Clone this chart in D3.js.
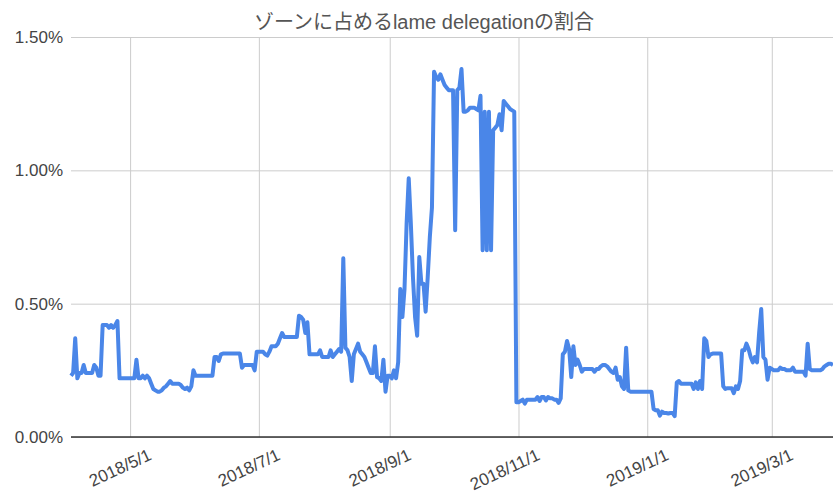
<!DOCTYPE html>
<html>
<head>
<meta charset="utf-8">
<script src="https://cdn.jsdelivr.net/npm/d3@7"></script>
<style>
  body { margin: 0; background: #fff; }
  svg { display: block; }
</style>
</head>
<body>
<div id="chart"></div>
<script>
// chart title
var title = "ゾーンに占めるlame delegationの割合";

// first day of the daily series
var startDate = "2018-04-03";

// daily share of lame delegation, in percent (one value per day from startDate)
var values = [
  0.23, 0.24, 0.37, 0.22, 0.24, 0.24, 0.27, 0.24, 0.24, 0.24,
  0.24, 0.27, 0.26, 0.23, 0.23, 0.42, 0.42, 0.42, 0.41, 0.42,
  0.41, 0.42, 0.435, 0.22, 0.22, 0.22, 0.22, 0.22, 0.22, 0.22,
  0.22, 0.29, 0.22, 0.22, 0.23, 0.22, 0.23, 0.22, 0.20, 0.18,
  0.175, 0.17, 0.17, 0.175, 0.185, 0.19, 0.20, 0.21, 0.20, 0.20,
  0.20, 0.20, 0.195, 0.185, 0.18, 0.185, 0.175, 0.19, 0.25, 0.23,
  0.23, 0.23, 0.23, 0.23, 0.23, 0.23, 0.23, 0.23, 0.30, 0.30,
  0.285, 0.31, 0.313, 0.313, 0.313, 0.313, 0.313, 0.313, 0.313, 0.313,
  0.313, 0.26, 0.27, 0.27, 0.27, 0.27, 0.27, 0.25, 0.32, 0.32,
  0.32, 0.32, 0.31, 0.305, 0.32, 0.34, 0.34, 0.34, 0.35, 0.37,
  0.39, 0.375, 0.375, 0.375, 0.375, 0.375, 0.375, 0.375, 0.455, 0.45,
  0.44, 0.39, 0.43, 0.31, 0.31, 0.31, 0.31, 0.31, 0.325, 0.30,
  0.30, 0.30, 0.30, 0.325, 0.30, 0.31, 0.32, 0.33, 0.32, 0.67,
  0.335, 0.325, 0.30, 0.21, 0.31, 0.33, 0.35, 0.32, 0.31, 0.30,
  0.28, 0.26, 0.24, 0.24, 0.34, 0.225, 0.22, 0.21, 0.29, 0.17,
  0.23, 0.23, 0.22, 0.25, 0.22, 0.28, 0.555, 0.45, 0.555, 0.80,
  0.97, 0.80, 0.60, 0.45, 0.38, 0.675, 0.575, 0.575, 0.47, 0.60,
  0.75, 0.86, 1.37, 1.35, 1.34, 1.36, 1.34, 1.32, 1.31, 1.30,
  1.30, 1.30, 0.775, 1.30, 1.31, 1.38, 1.22, 1.22, 1.225, 1.235,
  1.235, 1.235, 1.23, 1.225, 1.28, 0.70, 1.22, 0.70, 1.22, 0.70,
  1.15, 1.16, 1.17, 1.21, 1.15, 1.26, 1.25, 1.24, 1.23, 1.225,
  1.22, 0.13, 0.13, 0.135, 0.14, 0.125, 0.14, 0.14, 0.14, 0.14,
  0.14, 0.15, 0.135, 0.15, 0.15, 0.137, 0.15, 0.145, 0.145, 0.14,
  0.14, 0.128, 0.145, 0.31, 0.32, 0.36, 0.33, 0.225, 0.34, 0.27,
  0.29, 0.27, 0.245, 0.255, 0.255, 0.255, 0.255, 0.255, 0.245, 0.255,
  0.255, 0.265, 0.27, 0.27, 0.265, 0.255, 0.245, 0.24, 0.26, 0.215,
  0.225, 0.19, 0.18, 0.335, 0.175, 0.17, 0.17, 0.17, 0.17, 0.17,
  0.17, 0.17, 0.17, 0.17, 0.17, 0.17, 0.105, 0.10, 0.10, 0.08,
  0.095, 0.09, 0.09, 0.088, 0.09, 0.09, 0.078, 0.205, 0.21, 0.20,
  0.20, 0.20, 0.20, 0.20, 0.20, 0.18, 0.205, 0.18, 0.21, 0.18,
  0.37, 0.36, 0.30, 0.31, 0.313, 0.313, 0.313, 0.313, 0.313, 0.19,
  0.18, 0.183, 0.183, 0.183, 0.164, 0.19, 0.18, 0.21, 0.325, 0.325,
  0.35, 0.33, 0.30, 0.28, 0.30, 0.28, 0.39, 0.48, 0.30, 0.29,
  0.215, 0.26, 0.255, 0.25, 0.25, 0.25, 0.26, 0.255, 0.255, 0.25,
  0.25, 0.25, 0.26, 0.245, 0.245, 0.245, 0.245, 0.245, 0.23, 0.35,
  0.255, 0.25, 0.25, 0.25, 0.25, 0.25, 0.255, 0.265, 0.27, 0.275,
  0.275, 0.27
];

// axis ticks
var yTicks = [0, 0.5, 1.0, 1.5];
var xTicks = ["2018-05-01", "2018-07-01", "2018-09-01", "2018-11-01", "2019-01-01", "2019-03-01"];

var W = 833, H = 494;
var margin = {top: 37, right: 0, bottom: 57, left: 71};
var width = W - margin.left - margin.right,
    height = H - margin.top - margin.bottom;

var parse = d3.timeParse("%Y-%m-%d");
var fmt = d3.timeFormat("%Y/%-m/%-d");
var start = parse(startDate);

var data = values.map(function(v, i) {
  return {date: d3.timeDay.offset(start, i), value: v};
});

var x = d3.scaleTime()
    .domain(d3.extent(data, function(d) { return d.date; }))
    .range([0, width]);

var y = d3.scaleLinear()
    .domain([0, 1.5])
    .range([height, 0]);

var svg = d3.select("#chart").append("svg")
    .attr("width", W)
    .attr("height", H)
    .style("font-family", "Arial, 'Liberation Sans', sans-serif");

svg.append("text")
    .attr("x", 424)
    .attr("y", 29)
    .attr("text-anchor", "middle")
    .style("font-family", "Arial, 'Liberation Sans', 'Noto Sans CJK JP', sans-serif")
    .style("font-size", "20px")
    .attr("fill", "#555")
    .text(title);

var g = svg.append("g")
    .attr("transform", "translate(" + margin.left + "," + margin.top + ")");

// horizontal grid
var yAxis = d3.axisLeft(y)
    .tickValues(yTicks)
    .tickSize(-width)
    .tickPadding(8)
    .tickFormat(function(d) { return d.toFixed(2) + "%"; });

g.append("g")
    .attr("class", "y-axis")
    .call(yAxis)
    .call(function(s) {
      s.select(".domain").remove();
      s.selectAll(".tick line").attr("stroke", "#ccc");
      s.selectAll(".tick text").attr("fill", "#444").style("font-size", "17px");
    });

// vertical grid + slanted labels
var xAxis = d3.axisBottom(x)
    .tickValues(xTicks.map(parse))
    .tickSize(-height)
    .tickFormat(fmt);

g.append("g")
    .attr("class", "x-axis")
    .attr("transform", "translate(0," + height + ")")
    .call(xAxis)
    .call(function(s) {
      s.select(".domain").remove();
      s.selectAll(".tick line").attr("stroke", "#ccc");
      s.selectAll(".tick text")
        .attr("fill", "#444")
        .style("font-size", "17px")
        .attr("text-anchor", "end")
        .attr("dy", null)
        .attr("y", 0)
        .attr("transform", "translate(22,22) rotate(-25)");
    });

// zero baseline
g.append("line")
    .attr("x1", 0)
    .attr("x2", width)
    .attr("y1", y(0))
    .attr("y2", y(0))
    .attr("stroke", "#333")
    .attr("stroke-width", 1.5);

var line = d3.line()
    .x(function(d) { return x(d.date); })
    .y(function(d) { return y(d.value); });

g.append("path")
    .datum(data)
    .attr("fill", "none")
    .attr("stroke", "#4a86e8")
    .attr("stroke-width", 4)
    .attr("stroke-linejoin", "round")
    .attr("d", line);
</script>
</body>
</html>
